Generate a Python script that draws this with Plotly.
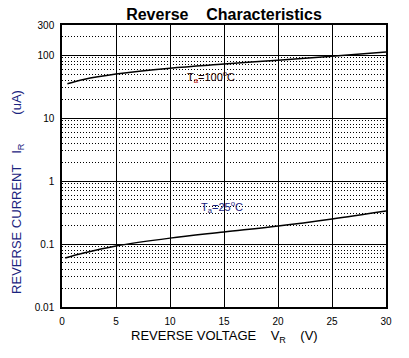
import plotly.graph_objects as go

voltage = [0.5, 2, 5, 10, 15, 20, 25, 30]
i_100c = [35, 41, 50, 62, 72, 83, 96, 112]
volt_25 = [0.3, 2, 5, 10, 15, 20, 25, 30]
i_25c = [0.06, 0.072, 0.093, 0.124, 0.155, 0.193, 0.25, 0.334]

x_ticks = [0, 5, 10, 15, 20, 25, 30]
y_ticks = [0.01, 0.1, 1, 10, 100, 300]
y_tick_text = ["0.01", "0.1", "1", "10", "100", "300"]
minor_vals = [k * 10.0 ** e for e in range(-2, 2) for k in range(2, 10)] + [200]

FONT = "Liberation Sans, Arial, sans-serif"
NB = "\u00a0"

fig = go.Figure()
fig.add_trace(go.Scatter(x=voltage, y=i_100c, mode="lines", line=dict(color="black", width=1.5, shape="spline"), showlegend=False, hoverinfo="skip"))
fig.add_trace(go.Scatter(x=volt_25, y=i_25c, mode="lines", line=dict(color="black", width=1.5, shape="spline"), showlegend=False, hoverinfo="skip"))

fig.update_layout(
    width=409, height=358,
    margin=dict(l=62, r=23, t=25, b=51),
    paper_bgcolor="white", plot_bgcolor="white",
    font=dict(family=FONT, color="black", size=10),
    title=dict(text="<b>Reverse" + NB * 4 + "Characteristics</b>", x=0.5, xref="paper", xanchor="center",
               y=1 - 14 / 358, yref="container", yanchor="middle",
               font=dict(size=16, family=FONT, color="black")),
)
fig.update_xaxes(range=[0, 30], tickvals=x_ticks, showgrid=True, gridcolor="black", gridwidth=1.3,
                 zeroline=False, showline=True, linecolor="black", linewidth=1.5, mirror=True,
                 ticks="", tickfont=dict(size=10, color="black"), ticklabelstandoff=4)
fig.update_yaxes(type="log", range=[-2, 2.4771], tickvals=y_ticks, ticktext=y_tick_text,
                 showgrid=True, gridcolor="black", gridwidth=1.3,
                 zeroline=False, showline=True, linecolor="black", linewidth=1.5, mirror=True,
                 ticks="", tickfont=dict(size=10, color="black"), ticklabelstandoff=4,
                 minor=dict(tickmode="array", tickvals=minor_vals, showgrid=True, griddash="1px,2px",
                            gridcolor="black", gridwidth=1, ticks=""))

fig.add_annotation(x=11.4, y=1.653, xref="x", yref="y", xanchor="left", yanchor="middle", showarrow=False,
                   text="T<sub><span style='color:#b00000'>a</span></sub>=100<sup>o</sup>C",
                   font=dict(size=11, color="#1a0000", family=FONT))
fig.add_annotation(x=12.7, y=-0.41, xref="x", yref="y", xanchor="left", yanchor="middle", showarrow=False,
                   text="T<sub>a</sub>=25<sup>o</sup>C",
                   font=dict(size=11, color="#1a237e", family=FONT))
fig.add_annotation(x=-0.136, y=0.408, xref="paper", yref="paper", xanchor="center", yanchor="middle",
                   showarrow=False, textangle=-90,
                   text="REVERSE CURRENT" + NB * 3 + "I<sub>R</sub>" + NB * 8 + "(uA)",
                   font=dict(size=13, color="#1a237e", family=FONT))
fig.add_annotation(x=0.5, y=-0.106, xref="paper", yref="paper", xanchor="center", yanchor="middle",
                   showarrow=False,
                   text="REVERSE VOLTAGE" + NB * 4 + "V<sub>R</sub>" + NB * 4 + "(V)",
                   font=dict(size=13, color="black", family=FONT))

fig.write_html("out.html", config={"displayModeBar": False},
               post_script="document.body.style.margin='0';")
